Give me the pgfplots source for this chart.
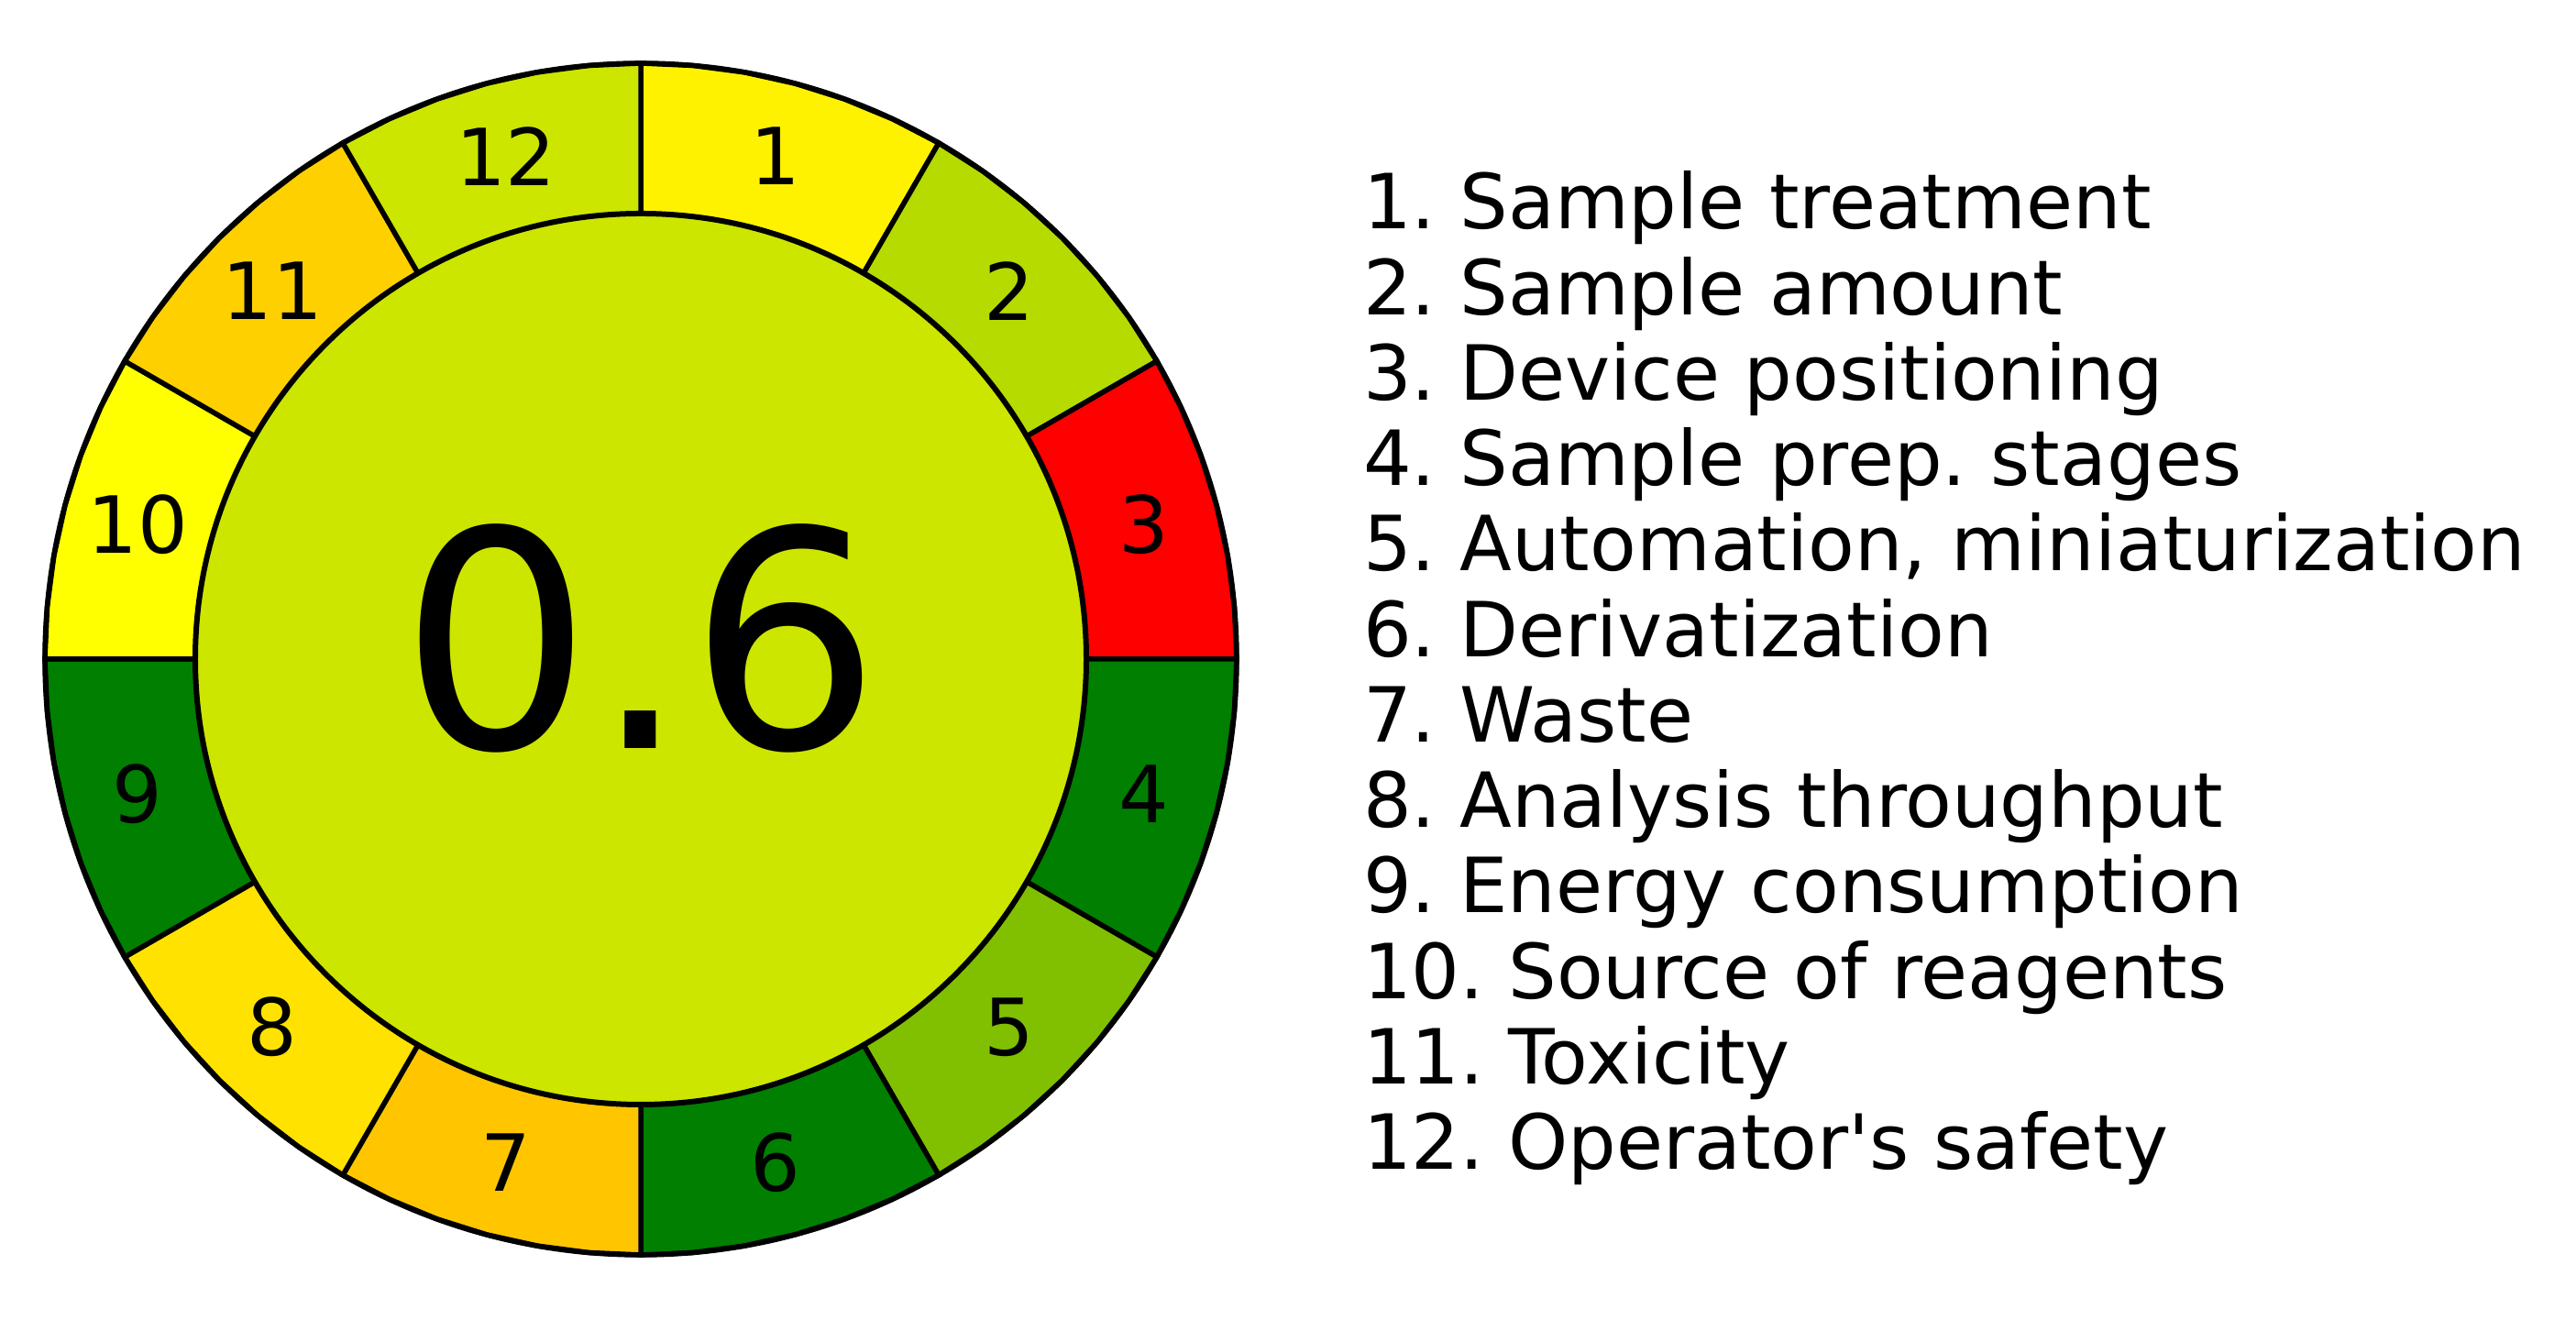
\documentclass[border=0pt]{standalone}
\usepackage{fontspec}
\setmainfont{DejaVu Sans}
\usepackage{pgfplots}
\pgfplotsset{compat=1.18}
\usepgfplotslibrary{polar}

% colours of the twelve criteria and of the total score
\definecolor{s1}{HTML}{FFF200}
\definecolor{s2}{HTML}{B5DB00}
\definecolor{s3}{HTML}{FF0000}
\definecolor{s4}{HTML}{007F00}
\definecolor{s5}{HTML}{80C000}
\definecolor{s6}{HTML}{007F00}
\definecolor{s7}{HTML}{FFC600}
\definecolor{s8}{HTML}{FFE200}
\definecolor{s9}{HTML}{007F00}
\definecolor{s10}{HTML}{FFFF00}
\definecolor{s11}{HTML}{FFD000}
\definecolor{s12}{HTML}{CCE600}
\definecolor{total}{HTML}{CCE600}

\begin{document}
\frenchspacing
\begin{tikzpicture}
\useasboundingbox (0,0) rectangle (281pt,144pt);
\begin{polaraxis}[
    hide axis,
    scale only axis,
    width=130pt, height=130pt,
    xmin=0, xmax=360, ymin=0, ymax=1,
    clip=false,
    at={(69.9pt,72.1pt)}, anchor=center,
    every axis plot/.append style={line width=0.55pt},
]
% ring segments (angle, radius)
\addplot[draw=black, fill=s1]  coordinates {(90,0) (90,1) (85,1) (80,1) (75,1) (70,1) (65,1) (60,1)} -- cycle;
\addplot[draw=black, fill=s2]  coordinates {(60,0) (60,1) (55,1) (50,1) (45,1) (40,1) (35,1) (30,1)} -- cycle;
\addplot[draw=black, fill=s3]  coordinates {(30,0) (30,1) (25,1) (20,1) (15,1) (10,1) (5,1) (0,1)} -- cycle;
\addplot[draw=black, fill=s4]  coordinates {(360,0) (360,1) (355,1) (350,1) (345,1) (340,1) (335,1) (330,1)} -- cycle;
\addplot[draw=black, fill=s5]  coordinates {(330,0) (330,1) (325,1) (320,1) (315,1) (310,1) (305,1) (300,1)} -- cycle;
\addplot[draw=black, fill=s6]  coordinates {(300,0) (300,1) (295,1) (290,1) (285,1) (280,1) (275,1) (270,1)} -- cycle;
\addplot[draw=black, fill=s7]  coordinates {(270,0) (270,1) (265,1) (260,1) (255,1) (250,1) (245,1) (240,1)} -- cycle;
\addplot[draw=black, fill=s8]  coordinates {(240,0) (240,1) (235,1) (230,1) (225,1) (220,1) (215,1) (210,1)} -- cycle;
\addplot[draw=black, fill=s9]  coordinates {(210,0) (210,1) (205,1) (200,1) (195,1) (190,1) (185,1) (180,1)} -- cycle;
\addplot[draw=black, fill=s10] coordinates {(180,0) (180,1) (175,1) (170,1) (165,1) (160,1) (155,1) (150,1)} -- cycle;
\addplot[draw=black, fill=s11] coordinates {(150,0) (150,1) (145,1) (140,1) (135,1) (130,1) (125,1) (120,1)} -- cycle;
\addplot[draw=black, fill=s12] coordinates {(120,0) (120,1) (115,1) (110,1) (105,1) (100,1) (95,1) (90,1)} -- cycle;

% smooth outer rim over the segment edges
\addplot[only marks, mark=o, mark size=65pt,
    mark options={draw=black, line width=0.55pt}]
    coordinates {(0,0)};

% centre disc with the total score
\addplot[only marks, mark=*, mark size=48.6pt,
    mark options={draw=black, fill=total, line width=0.6pt},
    nodes near coords, point meta=explicit symbolic,
    every node near coord/.style={anchor=center, text=black, yshift=2.3pt,
        font=\fontsize{33}{33}\selectfont}]
    coordinates {(0,0)[0.6]};

% criterion numbers
\addplot[only marks, mark=none, draw=none,
    nodes near coords, point meta=explicit symbolic,
    every node near coord/.style={anchor=center, text=black,
        font=\fontsize{8.6}{8.6}\selectfont}]
    coordinates {(75,0.874)[1] (45,0.874)[2] (15,0.874)[3] (345,0.874)[4]
                 (315,0.874)[5] (285,0.874)[6] (255,0.874)[7] (225,0.874)[8]
                 (195,0.874)[9] (165,0.874)[10] (135,0.874)[11] (105,0.874)[12]};
\end{polaraxis}

% legend text
\foreach \t [count=\i] in {
    1. Sample treatment,
    2. Sample amount,
    3. Device positioning,
    4. Sample prep. stages,
    {5. Automation, miniaturization},
    6. Derivatization,
    7. Waste,
    8. Analysis throughput,
    9. Energy consumption,
    10. Source of reagents,
    11. Toxicity,
    12. Operator\textquotesingle s safety}
  \node[anchor=base west, inner sep=0pt, font=\fontsize{8.3}{8.3}\selectfont]
    at (148.5pt, {144pt-25pt-9.325pt*(\i-1)}) {\t};
\end{tikzpicture}
\end{document}
